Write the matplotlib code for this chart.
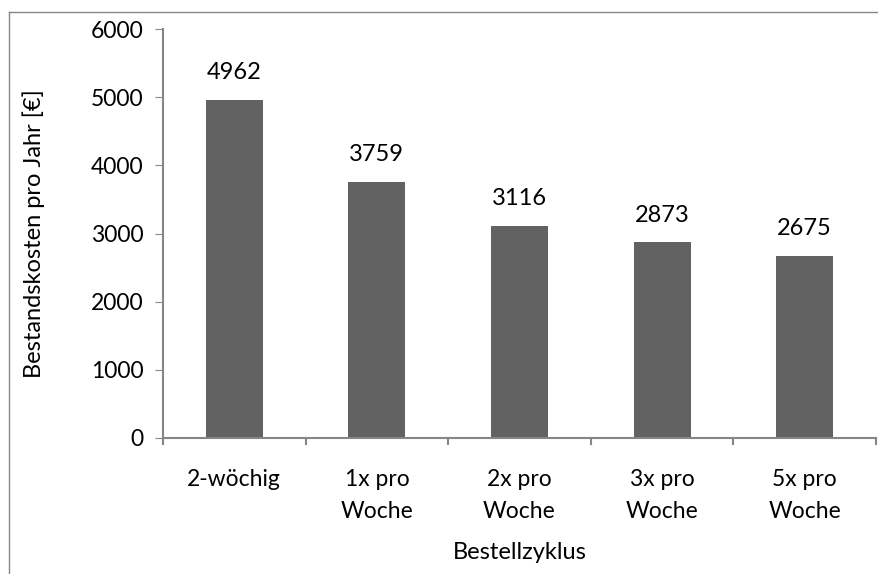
import matplotlib.pyplot as plt
from matplotlib.lines import Line2D

categories = ["2-wöchig", "1x pro\nWoche", "2x pro\nWoche", "3x pro\nWoche", "5x pro\nWoche"]
costs = [4962, 3759, 3116, 2873, 2675]
y_ticks = [0, 1000, 2000, 3000, 4000, 5000, 6000]

plt.rcParams["font.family"] = ["Lato", "DejaVu Sans"]
axis_color = "#868686"
W, H = 879, 574

fig = plt.figure(figsize=(W / 100, H / 100), dpi=100)
ax = fig.add_axes([163 / W, 1 - 438 / H, (876 - 163) / W, (438 - 29) / H])

index = range(len(categories))
ax.bar(index, costs, width=0.4, color="#626262")
for i, v in zip(index, costs):
    ax.text(i, v + 240, str(v), ha="center", va="bottom", fontsize=17)

ax.set_xlim(-0.5, len(categories) - 0.5)
ax.set_ylim(0, 6000)
ax.set_yticks(y_ticks)
ax.tick_params(axis="y", labelsize=16.5, length=6, color=axis_color, pad=8)
ax.set_xticks(list(index))
ax.set_xticklabels(categories, fontsize=16.5, linespacing=1.7)
ax.tick_params(axis="x", length=0, pad=22)
# category boundary ticks on the x axis
for b in [i - 0.5 for i in range(len(categories) + 1)]:
    ax.plot([b, b], [0, -0.015], transform=ax.get_xaxis_transform(), color=axis_color,
            lw=1.5, clip_on=False)

for s in ["top", "right"]:
    ax.spines[s].set_visible(False)
for s in ["left", "bottom"]:
    ax.spines[s].set_color(axis_color)
    ax.spines[s].set_linewidth(1.5)

ax.set_ylabel("Bestandskosten pro Jahr [€]", fontsize=17)
ax.yaxis.set_label_coords(-0.165, 0.5)
ax.set_xlabel("Bestellzyklus", fontsize=17)
ax.xaxis.set_label_coords(0.5, -0.255)

# outer chart frame (cut off at right and bottom)
fig.add_artist(Line2D([9 / W, 9 / W], [0, 1 - 12 / H], color=axis_color, lw=1))
fig.add_artist(Line2D([9 / W, 1], [1 - 12 / H, 1 - 12 / H], color=axis_color, lw=1))

fig.savefig("out.png", dpi=100)
